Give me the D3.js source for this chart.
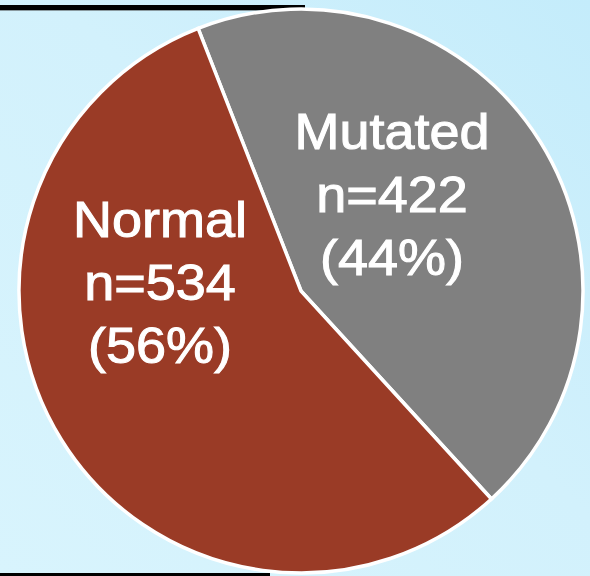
<!DOCTYPE html>
<meta charset="utf-8">
<style>
html, body { margin: 0; padding: 0; }
body { width: 590px; height: 576px; overflow: hidden; font-family: 'Liberation Sans', Arial, sans-serif; }
</style>
<script src="https://cdn.jsdelivr.net/npm/d3@7"></script>
<body>
<script>
// data
var groups = ['Mutated', 'Normal'];
var counts = [422, 534];
var percents = ['44%', '56%'];
var colors = ['#808080', '#9a3b26'];

var W = 590, H = 576;
var cx = 301, cy = 291, R = 282;

var svg = d3.select('body').append('svg')
  .attr('width', W)
  .attr('height', H);

var defs = svg.append('defs');
var grad = defs.append('linearGradient')
  .attr('id', 'bg')
  .attr('x1', '0%').attr('y1', '100%')
  .attr('x2', '100%').attr('y2', '0%');
grad.append('stop').attr('offset', '0%').attr('stop-color', '#d8f4fd');
grad.append('stop').attr('offset', '55%').attr('stop-color', '#d2f1fc');
grad.append('stop').attr('offset', '100%').attr('stop-color', '#c4ecfb');

svg.append('rect')
  .attr('width', W).attr('height', H)
  .attr('fill', 'url(#bg)');

// black rules behind the pie
svg.append('rect').attr('x', 0).attr('y', 5).attr('width', 305).attr('height', 5).attr('fill', '#000');
svg.append('rect').attr('x', 0).attr('y', 10).attr('width', 305).attr('height', 1).attr('fill', '#8a9aa0');
svg.append('rect').attr('x', 0).attr('y', 573).attr('width', 270).attr('height', 3).attr('fill', '#000');

var pie = d3.pie()
  .sort(null)
  .value(function(d) { return d; })
  .startAngle(-21.4 * Math.PI / 180)
  .endAngle(-21.4 * Math.PI / 180 + 2 * Math.PI);

var arc = d3.arc().innerRadius(0).outerRadius(R);

var g = svg.append('g')
  .attr('transform', 'translate(' + cx + ',' + cy + ')');

g.selectAll('path')
  .data(pie(counts))
  .enter()
  .append('path')
  .attr('d', arc)
  .attr('fill', function(d, i) { return colors[i]; })
  .attr('stroke', '#fff')
  .attr('stroke-width', 3.5)
  .attr('stroke-linejoin', 'miter');

// labels
var labelPos = [[392, 149], [160, 237]];
var lineGap = 63;

groups.forEach(function(name, i) {
  var t = svg.append('text')
    .attr('transform', 'translate(' + labelPos[i][0] + ',' + labelPos[i][1] + ') scale(1.08,1)')
    .attr('text-anchor', 'middle')
    .attr('fill', '#fff')
    .attr('stroke', '#fff')
    .attr('stroke-width', 1)
    .attr('font-size', '50px');
  [name, 'n=' + counts[i], '(' + percents[i] + ')'].forEach(function(s, k) {
    t.append('tspan')
      .attr('x', 0)
      .attr('y', k * lineGap)
      .text(s);
  });
});
</script>
</body>
